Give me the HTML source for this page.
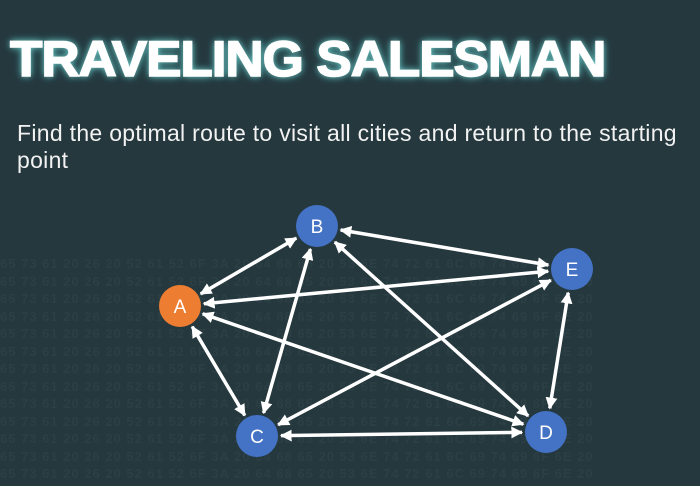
<!DOCTYPE html>
<html><head><meta charset="utf-8"><style>
html,body{margin:0;padding:0;}
body{width:700px;height:486px;overflow:hidden;background:#25383e;position:relative;font-family:"Liberation Sans",sans-serif;}
.hex{position:absolute;left:0;top:255px;width:700px;color:#2b3f45;font:bold 13px "Liberation Sans",sans-serif;line-height:17.5px;white-space:nowrap;letter-spacing:1px;}
h1{position:absolute;left:10px;top:30px;margin:0;font:900 50px "Liberation Sans",sans-serif;color:#fff;letter-spacing:-1px;transform:scaleX(1.06);transform-origin:left;text-shadow:0 0 6px #7fd6d6,0 0 10px #3a8a8a;-webkit-text-stroke:1.5px #fff}
p{position:absolute;left:17px;top:120px;margin:0;width:690px;white-space:nowrap;font:23px "Liberation Sans",sans-serif;color:#f2f2f2;line-height:27px;letter-spacing:0.3px}
svg{position:absolute;left:0;top:0}
</style></head><body>
<div class="hex">
65 73 61 20 26 20 52 61 52 6F 3A 20 64 68 65 20 53 6E 74 72 61 6C 69 74 69 6F 6E 20<br>
65 73 61 20 26 20 52 61 52 6F 3A 20 64 68 65 20 53 6E 74 72 61 6C 69 74 69 6F 6E 20<br>
65 73 61 20 26 20 52 61 52 6F 3A 20 64 68 65 20 53 6E 74 72 61 6C 69 74 69 6F 6E 20<br>
65 73 61 20 26 20 52 61 52 6F 3A 20 64 68 65 20 53 6E 74 72 61 6C 69 74 69 6F 6E 20<br>
65 73 61 20 26 20 52 61 52 6F 3A 20 64 68 65 20 53 6E 74 72 61 6C 69 74 69 6F 6E 20<br>
65 73 61 20 26 20 52 61 52 6F 3A 20 64 68 65 20 53 6E 74 72 61 6C 69 74 69 6F 6E 20<br>
65 73 61 20 26 20 52 61 52 6F 3A 20 64 68 65 20 53 6E 74 72 61 6C 69 74 69 6F 6E 20<br>
65 73 61 20 26 20 52 61 52 6F 3A 20 64 68 65 20 53 6E 74 72 61 6C 69 74 69 6F 6E 20<br>
65 73 61 20 26 20 52 61 52 6F 3A 20 64 68 65 20 53 6E 74 72 61 6C 69 74 69 6F 6E 20<br>
65 73 61 20 26 20 52 61 52 6F 3A 20 64 68 65 20 53 6E 74 72 61 6C 69 74 69 6F 6E 20<br>
65 73 61 20 26 20 52 61 52 6F 3A 20 64 68 65 20 53 6E 74 72 61 6C 69 74 69 6F 6E 20<br>
65 73 61 20 26 20 52 61 52 6F 3A 20 64 68 65 20 53 6E 74 72 61 6C 69 74 69 6F 6E 20<br>
65 73 61 20 26 20 52 61 52 6F 3A 20 64 68 65 20 53 6E 74 72 61 6C 69 74 69 6F 6E 20
</div>
<h1>TRAVELING SALESMAN</h1>
<p>Find the optimal route to visit all cities and return to the starting<br>point</p>
<svg id="g" width="700" height="486" viewBox="0 0 700 486">
<defs>
<marker id="ah" viewBox="0 0 10 10" refX="9" refY="5" markerWidth="3.4" markerHeight="3.4" orient="auto-start-reverse" markerUnits="strokeWidth">
<path d="M0,0 L10,5 L0,10 z" fill="#fff"/></marker>
</defs>
<g id="edges" stroke="#fff" stroke-width="3.5" fill="none"></g>
<g font-family="Liberation Sans, sans-serif" font-size="19" fill="#fff" text-anchor="middle">
<circle cx="317" cy="226" r="21" fill="#4472c4"/><text x="317" y="233">B</text>
<circle cx="572" cy="269" r="21" fill="#4472c4"/><text x="572" y="276">E</text>
<circle cx="180" cy="306" r="21" fill="#ed7d31"/><text x="180" y="313">A</text>
<circle cx="257" cy="436" r="21" fill="#4472c4"/><text x="257" y="443">C</text>
<circle cx="546" cy="432" r="21" fill="#4472c4"/><text x="546" y="439">D</text>
</g>
</svg>
<script>
var N={A:[180,306],B:[317,226],C:[257,436],D:[546,432],E:[572,269]};
var E=[["A","B"],["A","E"],["A","C"],["A","D"],["B","C"],["B","E"],["B","D"],["C","E"],["C","D"],["D","E"]];
var g=document.getElementById("edges"),s="";
E.forEach(function(e){var a=N[e[0]],b=N[e[1]],dx=b[0]-a[0],dy=b[1]-a[1],L=Math.hypot(dx,dy),ux=dx/L,uy=dy/L,r=24;
s+='<line x1="'+(a[0]+ux*r)+'" y1="'+(a[1]+uy*r)+'" x2="'+(b[0]-ux*r)+'" y2="'+(b[1]-uy*r)+'" marker-start="url(#ah)" marker-end="url(#ah)"/>';});
g.innerHTML=s;
</script>
</body></html>
